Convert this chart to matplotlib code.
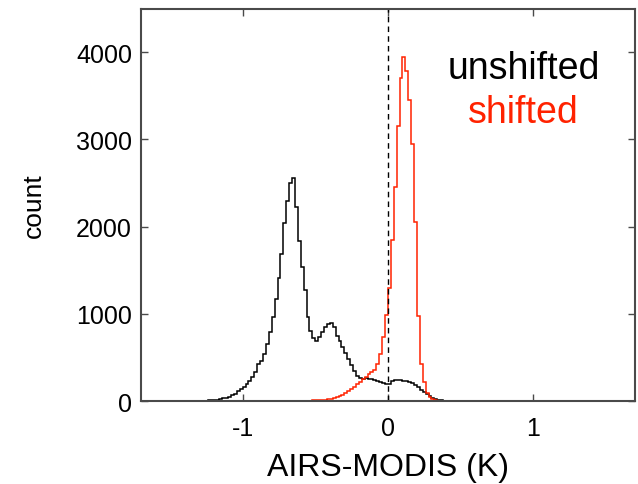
import numpy as np
import matplotlib
matplotlib.use("Agg")
import matplotlib.pyplot as plt

plt.rcParams['font.family'] = ['Liberation Sans', 'DejaVu Sans']
plt.rcParams['axes.unicode_minus'] = False

# Histogram of AIRS-MODIS differences (bin width 0.02 K)
bin_width = 0.02

unshifted_start = -1.70
unshifted_counts = [
    1, 0, 2, 1, 0, 2, 1, 3, 1, 2, 2, 1, 3, 2, 2, 3, 2, 4, 3, 3,
    4, 5, 6, 8, 10, 13, 17, 22, 30, 40, 52, 66, 85, 110, 135,
    160, 190, 230, 275, 330, 420, 465, 545, 660, 790, 960, 1170, 1410,
    1690, 2040, 2290, 2500, 2560, 2230, 1840, 1540, 1270, 960, 800, 720,
    690, 730, 790, 850, 880, 900, 850, 750, 690, 620, 550, 480, 410, 350,
    290, 262, 255, 262, 255, 250, 243, 232, 220, 212, 200,
    198, 225, 236, 240, 242, 235, 228, 218, 205, 185, 160, 130, 100, 76,
    55, 38, 25, 16, 10, 6, 4, 2, 1, 1, 0, 1,
]

shifted_start = -1.10
shifted_counts = [
    0, 1, 0, 0, 1, 0, 1, 0, 1, 1, 0, 1, 1, 0, 1, 2, 1, 1, 2, 1, 2, 2, 3, 2, 3,
    3, 4, 5, 6, 7, 9, 11, 13, 16, 20, 25, 33, 44, 58, 74, 93, 118, 142,
    165, 192, 220, 248, 278, 305, 330, 360, 420, 540, 740, 990,
    1300, 1850, 2450, 3150, 3700, 3950, 3780, 3450, 2950, 2050, 980, 430,
    220, 95, 42, 20, 11, 6, 4, 3, 2, 1, 2, 1, 1, 0, 1, 0, 1, 0, 0, 1, 0,
    0, 1, 0, 0, 1, 0, 0, 0,
]

x_ticks = [-1, 0, 1]
y_ticks = [0, 1000, 2000, 3000, 4000]


def edges_for(start, counts):
    return start + bin_width * np.arange(len(counts) + 1)


fig = plt.figure(figsize=(6.38, 4.85), dpi=100)
ax = fig.add_axes([0.221, 0.171, 0.774, 0.809])

ax.stairs(unshifted_counts, edges_for(unshifted_start, unshifted_counts),
          color='black', lw=1.1)
ax.stairs(shifted_counts, edges_for(shifted_start, shifted_counts),
          color='#ff2200', lw=1.1)
ax.axvline(0, color='black', ls=(0, (4, 3)), lw=1.0)

ax.set_xlim(-1.7, 1.7)
ax.set_ylim(0, 4500)
ax.set_xticks(x_ticks)
ax.set_xticklabels([str(t) for t in x_ticks])
ax.set_yticks(y_ticks)

frame = '#4a4a4a'
for sp in ax.spines.values():
    sp.set_color(frame)
    sp.set_linewidth(1.5)
ax.tick_params(direction='in', top=True, right=True, length=5, width=1,
               color=frame, labelsize=18)
ax.tick_params(axis='x', pad=11)
ax.tick_params(axis='y', pad=6.5)

ax.set_xlabel('AIRS-MODIS (K)', fontsize=23, va='top')
ax.xaxis.set_label_coords(0.5, -0.13)
ax.set_ylabel('count', fontsize=19, labelpad=22)

ax.text(0.935, 3700, 'unshifted', color='black', fontsize=27,
        ha='center', va='baseline')
ax.text(0.935, 3197, 'shifted', color='#ff2200', fontsize=27,
        ha='center', va='baseline')

fig.savefig('out.png', dpi=100)
